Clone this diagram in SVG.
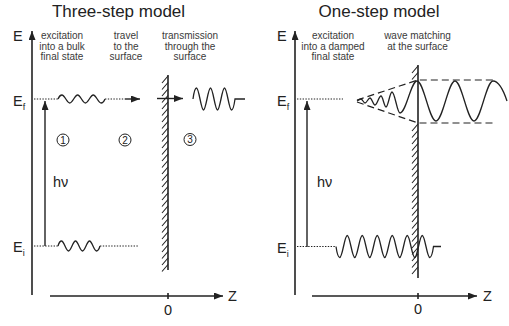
<svg xmlns="http://www.w3.org/2000/svg" width="509" height="326" viewBox="0 0 509 326">
<defs>
<marker id="arr" markerUnits="userSpaceOnUse" markerWidth="10" markerHeight="7" refX="9" refY="3.5" orient="auto"><path d="M0,0 L9,3.5 L0,7 z" fill="#222"/></marker>
<style>
.t{font-family:"Liberation Sans",Arial,sans-serif;fill:#222}
.title{font-size:17px;text-anchor:middle}
.lab{font-size:10px;fill:#3a3a3a;text-anchor:middle}
.big{font-size:14.5px}
.sub{font-size:9px}
.ax{stroke:#222;stroke-width:1.6;fill:none}
.ln{stroke:#222;stroke-width:1.4;fill:none}
.wave{stroke:#222;stroke-width:1.3;fill:none}
.dot{stroke:#222;stroke-width:1;stroke-dasharray:1.4 1.4;fill:none}
.dash{stroke:#222;stroke-width:1.2;stroke-dasharray:7 4;fill:none}
.hatch{stroke:#222;stroke-width:1.1;fill:none}
.circ{stroke:#222;stroke-width:1;fill:#fff}
.num{font-size:10px;text-anchor:middle}
</style>
</defs>
<rect width="509" height="326" fill="#fff"/>

<g id="left-panel">
<text class="t title" x="118.5" y="17">Three-step model</text>
<g id="left-labels">
<text class="t lab" x="62" y="39">excitation</text>
<text class="t lab" x="62" y="49.5">into a bulk</text>
<text class="t lab" x="62" y="60">final state</text>
<text class="t lab" x="126" y="39">travel</text>
<text class="t lab" x="126" y="49.5">to the</text>
<text class="t lab" x="126" y="60">surface</text>
<text class="t lab" x="190" y="39">transmission</text>
<text class="t lab" x="190" y="49.5">through the</text>
<text class="t lab" x="190" y="60">surface</text>
</g>
<g id="left-axis-labels">
<text class="t big" x="13" y="41">E</text>
<text class="t big" x="13" y="106">E<tspan class="sub" dy="4">f</tspan></text>
<text class="t big" x="13" y="252">E<tspan class="sub" dy="4">i</tspan></text>
<text class="t big" x="53" y="187">hν</text>
<text class="t big" x="168" y="315" text-anchor="middle">0</text>
<text class="t big" x="228" y="301">Z</text>
</g>
<g id="left-steps">
<circle class="circ" cx="63" cy="140" r="6"/><text class="t num" x="63" y="143.6">1</text>
<circle class="circ" cx="125" cy="140" r="6"/><text class="t num" x="125" y="143.6">2</text>
<circle class="circ" cx="190" cy="139.5" r="6"/><text class="t num" x="190" y="143.1">3</text>
</g>
<g id="left-surface">
<line class="ax" x1="168" y1="75" x2="168" y2="270"/>
<path class="hatch" d="M168,76l-6,7M168,82.5l-6,7M168,89l-6,7M168,95.5l-6,7M168,102l-6,7M168,108.5l-6,7M168,115l-6,7M168,121.5l-6,7M168,128l-6,7M168,134.5l-6,7M168,141l-6,7M168,147.5l-6,7M168,154l-6,7M168,160.5l-6,7M168,167l-6,7M168,173.5l-6,7M168,180l-6,7M168,186.5l-6,7M168,193l-6,7M168,199.5l-6,7M168,206l-6,7M168,212.5l-6,7M168,219l-6,7M168,225.5l-6,7M168,232l-6,7M168,238.5l-6,7M168,245l-6,7M168,251.5l-6,7M168,258l-6,7M168,264.5l-6,7"/>
</g>
<g id="left-states">
<line class="dot" x1="34" y1="99" x2="58" y2="99"/>
<path class="wave" d="M58,99 Q59.7,95 61.9,95 C64.7,95 66.95,103 69.75,103 S74.8,95 77.6,95 S82.6,103 85.4,103 S90.45,95 93.25,95 S98.3,103 101.1,103 Q103.4,103 105,99"/>
<line class="dot" x1="105" y1="99" x2="125" y2="99"/>
<line class="dot" x1="34" y1="246" x2="58" y2="246"/>
<path class="wave" d="M58,246 Q59.5,241 61.5,241 C64,241 66,251 68.5,251 S73,241 75.5,241 S80,251 82.5,251 S87,241 89.5,241 S94,251 96.5,251 Q98.5,251 100,246"/>
<line class="dot" x1="100" y1="246" x2="138" y2="246"/>
<path class="wave" d="M193,99 Q194.5,88 196.5,88 C199,88 201,110 203.5,110 S208,88 210.5,88 S215,110 217.5,110 S222,88 224.5,88 S229,110 231.5,110 Q233.5,110 235,99 L245,99"/>
</g>
</g>

<g id="right-panel">
<text class="t title" x="379" y="17">One-step model</text>
<g id="right-labels">
<text class="t lab" x="333" y="39">excitation</text>
<text class="t lab" x="333" y="49.5">into a damped</text>
<text class="t lab" x="333" y="60">final state</text>
<text class="t lab" x="417.5" y="39">wave matching</text>
<text class="t lab" x="417.5" y="49.5">at the surface</text>
</g>
<g id="right-axis-labels">
<text class="t big" x="277" y="41">E</text>
<text class="t big" x="277" y="106">E<tspan class="sub" dy="4">f</tspan></text>
<text class="t big" x="277" y="253">E<tspan class="sub" dy="4">i</tspan></text>
<text class="t big" x="317" y="187">hν</text>
<text class="t big" x="418" y="314" text-anchor="middle">0</text>
<text class="t big" x="483" y="301">Z</text>
</g>
<g id="right-surface">
<line class="ax" x1="418" y1="65" x2="418" y2="278"/>
<path class="hatch" d="M418,66l-6,7M418,72.5l-6,7M418,124l-6,7M418,130.5l-6,7M418,137l-6,7M418,143.5l-6,7M418,150l-6,7M418,156.5l-6,7M418,163l-6,7M418,169.5l-6,7M418,176l-6,7M418,182.5l-6,7M418,189l-6,7M418,195.5l-6,7M418,202l-6,7M418,208.5l-6,7M418,215l-6,7M418,221.5l-6,7M418,228l-6,7M418,234.5l-6,7M418,241l-6,7M418,247.5l-6,7M418,254l-6,7M418,260.5l-6,7M418,267l-6,7"/>
</g>
<g id="right-states">
<line class="dot" x1="297" y1="99" x2="343" y2="99"/>
<polyline class="dash" points="357,100 418,80 495,80"/>
<polyline class="dash" points="357,102 418,123 493,123"/>
<path class="wave" d="M357,101 C358.4,100 359.6,99 361,99 C362.4,99 363.6,103 365,103 C366.8,103 368.2,98 370,98 C371.8,98 373.2,105 375,105 C377.2,105 378.8,96 381,96 C382.8,96 384.2,107 386,107 C388.2,107 389.8,92 392,92 C394.9,92 397.1,113 400,113 C406.1,113 410.9,81 417,81 C423.8,81 429.2,121 436,121 C442.8,121 448.2,81 455,81 C461.8,81 467.2,121 474,121 C480.8,121 486.2,81 493,81 C499,81 504,92 507,101"/>
<line class="dot" x1="297" y1="246.5" x2="336" y2="246.5"/>
<path class="wave" d="M336,246.5 Q337.6,257.5 339.75,257.5 C342.45,257.5 344.55,235.5 347.25,235.5 S352.05,257.5 354.75,257.5 S359.55,235.5 362.25,235.5 S367.05,257.5 369.75,257.5 S374.55,235.5 377.25,235.5 S382.05,257.5 384.75,257.5 S389.55,235.5 392.25,235.5 S397.05,257.5 399.75,257.5 S404.55,235.5 407.25,235.5 S412.05,257.5 414.75,257.5 S419.55,235.5 422.25,235.5 S427.05,257.5 429.75,257.5 Q431.9,257.5 433.5,246.5 L441,246.5"/>
</g>
</g>

<g id="connectors">
<line class="ax" x1="32" y1="295" x2="32" y2="31" marker-end="url(#arr)"/>
<line class="ax" x1="50" y1="296" x2="223" y2="296" marker-end="url(#arr)"/>
<line class="ax" x1="168" y1="293" x2="168" y2="299"/>
<line class="ln" x1="45" y1="246" x2="45" y2="101" marker-end="url(#arr)"/>
<line class="ln" x1="125" y1="99" x2="140" y2="99" marker-end="url(#arr)"/>
<line class="ln" x1="157" y1="98.5" x2="183" y2="98.5" marker-end="url(#arr)"/>
<line class="ax" x1="295" y1="295" x2="295" y2="31" marker-end="url(#arr)"/>
<line class="ax" x1="312" y1="296" x2="477" y2="296" marker-end="url(#arr)"/>
<line class="ax" x1="418" y1="293" x2="418" y2="299"/>
<line class="ln" x1="307" y1="247" x2="307" y2="101" marker-end="url(#arr)"/>
</g>
</svg>
